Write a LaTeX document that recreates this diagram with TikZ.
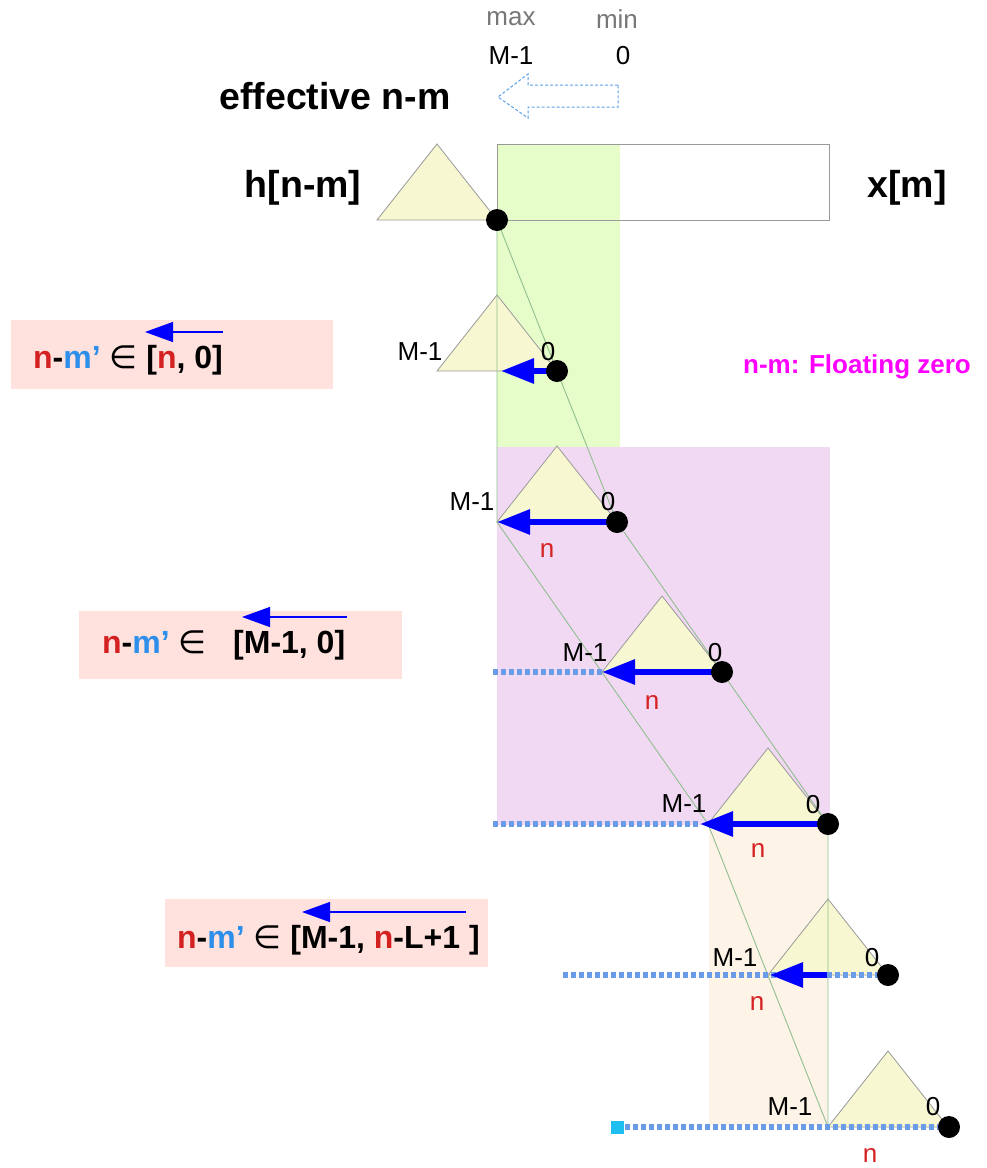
\documentclass[tikz,border=0pt]{standalone}
\usepackage{fontspec}
\setmainfont{Liberation Sans}
\newfontfamily\symfont{DejaVu Sans}
\usetikzlibrary{arrows.meta}

\definecolor{greenband}{HTML}{E6FDC9}
\definecolor{magband}{HTML}{F2D9F3}
\definecolor{peachband}{HTML}{FDF3E7}
\definecolor{pinkbox}{HTML}{FFE1DE}
\definecolor{trifill}{HTML}{F7F8D2}
\definecolor{triline}{HTML}{999999}
\definecolor{guideline}{HTML}{8FBF8F}
\definecolor{dotblue}{HTML}{6A9BE8}
\definecolor{outlineblue}{HTML}{5AA0E8}
\definecolor{nred}{HTML}{D42222}
\definecolor{mblue}{HTML}{2E8FEA}
\definecolor{flo}{HTML}{FF00FF}
\definecolor{sqcyan}{HTML}{1EBEF0}
\definecolor{greytxt}{HTML}{777777}

\tikzset{
  tri/.style={fill=trifill, draw=triline, line width=0.8pt, line join=miter},
  guide/.style={draw=guideline, line width=0.9pt},
  dotline/.style={draw=dotblue, line width=6.5pt, dash pattern=on 5pt off 3pt},
  fatarrow/.style={draw=blue, line width=6pt, -{Triangle[length=33pt,width=24pt]}},
  thinarrow/.style={draw=blue, line width=1.2pt, -{Triangle[length=28pt,width=20pt]}},
  dotnode/.style={circle, fill=black, minimum size=22pt, inner sep=0pt},
  lbl/.style={font=\fontsize{26}{30}\selectfont, inner sep=0pt},
  big/.style={font=\bfseries\fontsize{37.5}{42}\selectfont, inner sep=0pt},
  boxtxt/.style={font=\bfseries\fontsize{32}{36}\selectfont, inner sep=0pt, anchor=base west},
}

\begin{document}
\begin{tikzpicture}[x=1pt,y=-1pt]
\useasboundingbox (0,0) rectangle (987,1168);

% shaded index ranges
\fill[greenband] (497,144) rectangle (620,447);
\fill[magband] (497,447) rectangle (830,825);
\fill[peachband] (709,825) rectangle (828,1125);

% pink range boxes
\fill[pinkbox] (11,320) rectangle (333,389);
\fill[pinkbox] (79,611) rectangle (402,679);
\fill[pinkbox] (165,899) rectangle (488,967);

% input sequence x[m]
\draw[draw=triline, line width=1pt] (497,144) rectangle (829,220);

% left corners (l) and zero points (c) of the flipped filters
\coordinate (l0) at (377,220);  \coordinate (c0) at (497,220);
\coordinate (l1) at (437,371);  \coordinate (c1) at (557,371);
\coordinate (l2) at (497,522);  \coordinate (c2) at (617,522);
\coordinate (l3) at (602,672);  \coordinate (c3) at (722,672);
\coordinate (l4) at (708,824);  \coordinate (c4) at (828,824);
\coordinate (l5) at (768,975);  \coordinate (c5) at (888,975);
\coordinate (l6) at (828,1127); \coordinate (c6) at (949,1127);

% filter triangles
\foreach \k in {0,...,6}{
  \filldraw[tri] (l\k) -- ++(60,-76) -- ++(60,76) -- cycle;
}

% sliding envelope
\draw[guide] (c0) -- (c2) -- (c4) -- (l6);
\draw[guide] (c0) -- (l2) -- (l4) -- (l6);

% dotted extensions
\coordinate (s3) at (493,672);
\coordinate (s4) at (493,824);
\coordinate (s5) at (563,975);
\coordinate (s6) at (617,1127);
\coordinate (t1) at (501,371);
\coordinate (t4) at (700,824);
\coordinate (m5) at (827,975);
\coordinate (t5) at (770,975);
\draw[dotline] (s3) -- (l3);
\draw[dotline] (s4) -- (t4);
\draw[dotline] (s5) -- (c5);
\draw[dotline] (s6) -- (c6);
\node[fill=sqcyan, minimum size=13pt, inner sep=0pt] (sq) at (s6) {};

% summation direction
\draw[fatarrow] (c1) -- (t1);
\draw[fatarrow] (c2) -- (l2);
\draw[fatarrow] (c3) -- (l3);
\draw[fatarrow] (c4) -- (t4);
\draw[fatarrow] (m5) -- (t5);

% zero points
\foreach \k in {0,...,6}{
  \node[dotnode] (dot\k) at (c\k) {};
}

% top direction indicator
\draw[draw=outlineblue, line width=1pt, dash pattern=on 3pt off 2pt]
  (618,85) -- (528,85) -- (528,74) -- (498,97) -- (528,118) -- (528,107) -- (618,107) -- cycle;
\node[lbl, text=greytxt] (maxlbl) at (511,19) {max};
\node[lbl, text=greytxt] (minlbl) at (617,19) {min};
\node[lbl] (mtop) at (511,56) {M-1};
\node[lbl] (ztop) at (623,56) {0};

% titles
\node[big] (eff) at (335,96) {effective n-m};
\node[big] (hlbl) at (303,188) {h[n-m]};
\node[big] (xlbl) at (907,188) {x[m]};
\node[font=\bfseries\fontsize{26}{30}\selectfont, text=flo, inner sep=0pt] (flt) at (857,367) {n-m: Floating zero};

% filter end labels
\node[lbl] (ma1) at (420,352) {M-1};  \node[lbl] (za1) at (548,352) {0};
\node[lbl] (ma2) at (472,502) {M-1};  \node[lbl] (za2) at (608,502) {0};
\node[lbl] (ma3) at (585,653) {M-1};  \node[lbl] (za3) at (715,653) {0};
\node[lbl] (ma4) at (684,804) {M-1};  \node[lbl] (za4) at (813,805) {0};
\node[lbl] (ma5) at (735,958) {M-1};  \node[lbl] (za5) at (872,958) {0};
\node[lbl] (ma6) at (790,1107) {M-1}; \node[lbl] (za6) at (933,1107) {0};
\node[lbl, text=nred] (n2) at (547,550) {n};
\node[lbl, text=nred] (n3) at (652,702) {n};
\node[lbl, text=nred] (n4) at (758,850) {n};
\node[lbl, text=nred] (n5) at (757,1003) {n};
\node[lbl, text=nred] (n6) at (870,1155) {n};

% range texts
\node[boxtxt] (r1) at (33,368) {\textcolor{nred}{n}-\textcolor{mblue}{m’} {\mdseries\symfont ∈} [\textcolor{nred}{n}, 0]};
\node[boxtxt] (r2a) at (102,653) {\textcolor{nred}{n}-\textcolor{mblue}{m’} {\mdseries\symfont ∈}};
\node[boxtxt] (r2b) at (233,653) {[M-1, 0]};
\node[boxtxt] (r3) at (177,948) {\textcolor{nred}{n}-\textcolor{mblue}{m’} {\mdseries\symfont ∈} [M-1, \textcolor{nred}{n}-L+1 ]};

\coordinate (a1s) at (223,332); \coordinate (a1e) at (145,332);
\coordinate (a2s) at (347,617); \coordinate (a2e) at (242,617);
\coordinate (a3s) at (466,912); \coordinate (a3e) at (302,912);
\draw[thinarrow] (a1s) -- (a1e);
\draw[thinarrow] (a2s) -- (a2e);
\draw[thinarrow] (a3s) -- (a3e);
\end{tikzpicture}
\end{document}
